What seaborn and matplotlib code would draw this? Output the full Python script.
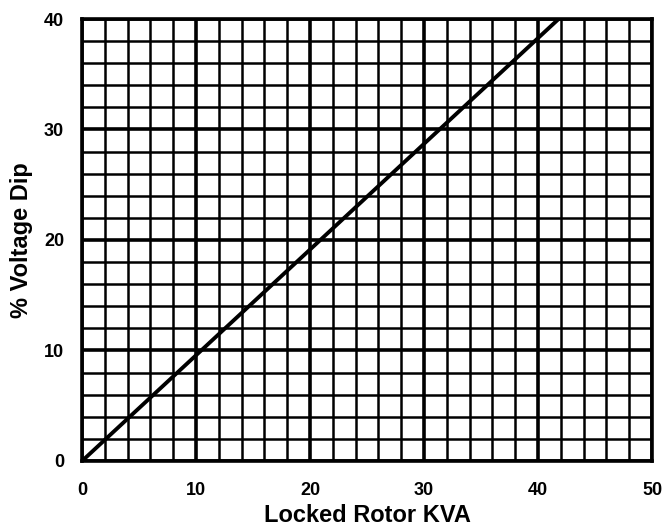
import matplotlib
matplotlib.use("Agg")
import matplotlib.pyplot as plt
import seaborn as sns
import pandas as pd
import numpy as np

# Data
kva = [0, 41.8]
dip = [0, 40]
x_ticks = [0, 10, 20, 30, 40, 50]
y_ticks = [0, 10, 20, 30, 40]

sns.set_theme(style="white")
plt.rcParams['font.family'] = ['Liberation Sans', 'DejaVu Sans']
plt.rcParams['text.color'] = 'black'
plt.rcParams['axes.labelcolor'] = 'black'
plt.rcParams['xtick.color'] = 'black'
plt.rcParams['ytick.color'] = 'black'

fig = plt.figure(figsize=(6.62, 5.28), dpi=100)
ax = fig.add_axes([0.124, 0.127, 0.861, 0.837])

df = pd.DataFrame({"kva": kva, "dip": dip})

# grid
for v in np.arange(0, 51, 2):
    lw = 2.6 if v % 10 == 0 else 1.8
    ax.axvline(v, color="black", lw=lw, zorder=1)
for v in np.arange(0, 41, 2):
    lw = 2.6 if v % 10 == 0 else 1.8
    ax.axhline(v, color="black", lw=lw, zorder=1)

sns.lineplot(data=df, x="kva", y="dip", color="black", lw=2.8, ax=ax, zorder=3)

ax.set_xlim(0, 50)
ax.set_ylim(0, 40)
ax.set_xticks(x_ticks)
ax.set_yticks(y_ticks)
ax.tick_params(axis="x", length=0, labelsize=13, pad=15, labelcolor="black")
ax.tick_params(axis="y", length=0, labelsize=13, pad=13, labelcolor="black")
for lab in ax.get_xticklabels() + ax.get_yticklabels():
    lab.set_fontweight("bold")
ax.set_xlabel("Locked Rotor KVA", fontsize=17, fontweight="bold", labelpad=4, color="black")
ax.set_ylabel("% Voltage Dip", fontsize=17, fontweight="bold", labelpad=8, color="black")
for s in ax.spines.values():
    s.set_linewidth(2.6)
    s.set_color("black")

fig.savefig("out.png", dpi=100)
